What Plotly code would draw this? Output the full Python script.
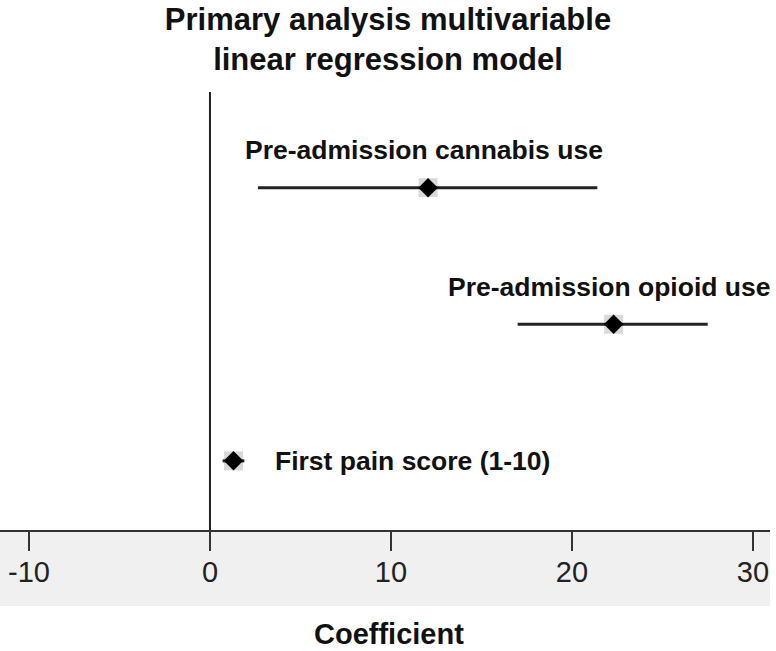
import plotly.graph_objects as go

labels = ["Pre-admission cannabis use", "Pre-admission opioid use", "First pain score (1-10)"]
coef = [12.05, 22.3, 1.3]
ci_low = [2.65, 17.0, 0.7]
ci_high = [21.4, 27.5, 1.9]
ypos = [3, 2, 1]
tick_vals = [-10, 0, 10, 20, 30]
tick_text = ["-10", "0", "10", "20", "30"]

err_plus = [h - c for h, c in zip(ci_high, coef)]
err_minus = [c - l for c, l in zip(coef, ci_low)]

fig = go.Figure()
fig.add_trace(go.Scatter(
    x=coef, y=ypos, mode="markers",
    marker=dict(symbol="square", size=19, color="rgba(0,0,0,0.15)"),
    error_x=dict(type="data", array=err_plus, arrayminus=err_minus, thickness=3, width=0, color="#222"),
    hoverinfo="skip", showlegend=False))
fig.add_trace(go.Scatter(
    x=coef, y=ypos, mode="markers",
    marker=dict(symbol="diamond", size=15, color="#000"),
    showlegend=False))

lab_font = dict(size=26.5, color="#111", family="Liberation Sans, Arial, sans-serif")
# labels
fig.add_annotation(x=11.8, y=ypos[0], text="<b>" + labels[0] + "</b>", showarrow=False,
                   yshift=38, xanchor="center", font=lab_font)
fig.add_annotation(x=22.05, y=ypos[1], text="<b>" + labels[1] + "</b>", showarrow=False,
                   yshift=37, xanchor="center", font=lab_font)
fig.add_annotation(x=3.5, y=ypos[2], text="<b>" + labels[2] + "</b>", showarrow=False,
                   xanchor="left", font=lab_font)

# shaded band under axis
fig.add_shape(type="rect", xref="paper", yref="paper", x0=0, x1=1, y0=-76/438, y1=0,
              fillcolor="#f0f0f0", line=dict(width=0), layer="below")
# vertical reference line
fig.add_shape(type="line", xref="x", yref="paper", x0=0, x1=0, y0=0, y1=1,
              line=dict(color="#222", width=2))

fig.add_annotation(xref="paper", yref="paper", x=389 / 770, y=-104 / 438,
                   text="<b>Coefficient</b>", showarrow=False, yanchor="middle",
                   font=dict(size=29, color="#111", family="Liberation Sans, Arial, sans-serif"))

fig.update_layout(
    width=776, height=651,
    margin=dict(l=0, r=6, t=92, b=121),
    plot_bgcolor="white", paper_bgcolor="white",
    font=dict(family="Liberation Sans, Arial, sans-serif"),
    title=dict(text="<b>Primary analysis multivariable<br>linear regression model</b>",
               x=0.5, xref="container", xanchor="center", y=1 - 30 / 651, yref="container",
               yanchor="middle",
               font=dict(size=31, color="#111", family="Liberation Sans, Arial, sans-serif")),
    xaxis=dict(range=[-11.6, 30.94], tickvals=tick_vals, ticktext=tick_text, ticks="outside",
               ticklen=19, tickwidth=2, tickcolor="#333", showline=True, linecolor="#333",
               linewidth=2, showgrid=False, zeroline=False,
               tickfont=dict(size=29, color="#222"), ticklabelstandoff=-4),
    yaxis=dict(range=[0.494, 3.70], visible=False, showgrid=False, zeroline=False),
)
fig.write_html("out.html", config={"displayModeBar": False},
               post_script="document.body.style.margin='0';document.body.style.overflow='hidden';")
